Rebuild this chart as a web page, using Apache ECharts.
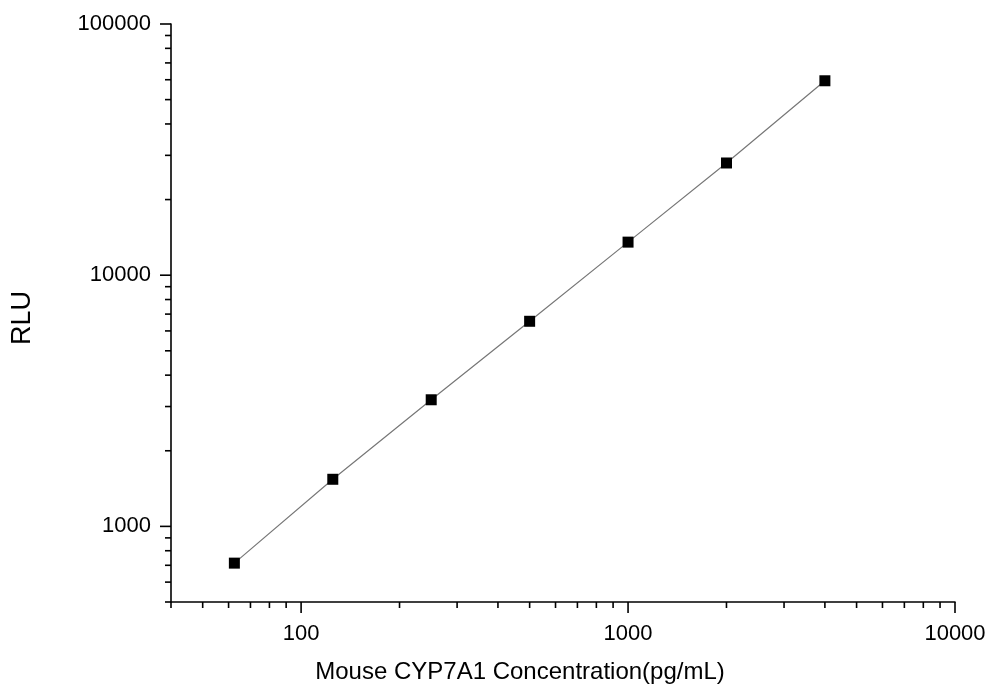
<!DOCTYPE html>
<html>
<head>
<meta charset="utf-8">
<script src="https://cdn.jsdelivr.net/npm/echarts@6/dist/echarts.min.js"></script>
<style>
html,body{margin:0;padding:0;background:#fff;}
#chart{width:989px;height:691px;}
</style>
</head>
<body>
<div id="chart"></div>
<script>
// Data
const concentrations = [62.5, 125, 250, 500, 1000, 2000, 4000];
const rluValues = [714, 1540, 3192, 6554, 13540, 27970, 59430];

// Axis ranges and ticks
const xMin = 40, xMax = 10000;
const yMin = 500, yMax = 100000;
const xMajorTicks = [100, 1000, 10000];
const xMinorTicks = [40, 50, 60, 70, 80, 90, 200, 300, 400, 500, 600, 700, 800, 900,
  2000, 3000, 4000, 5000, 6000, 7000, 8000, 9000];
const yMajorTicks = [1000, 10000, 100000];
const yMinorTicks = [500, 600, 700, 800, 900, 2000, 3000, 4000, 5000, 6000, 7000, 8000, 9000,
  20000, 30000, 40000, 50000, 60000, 70000, 80000, 90000];

const xTitle = 'Mouse CYP7A1 Concentration(pg/mL)';
const yTitle = 'RLU';

const FONT = '"Liberation Sans", Arial, sans-serif';

function isPow10(v) {
  const l = Math.log10(v);
  return Math.abs(l - Math.round(l)) < 1e-9;
}

function tickSeries(values, axis, len) {
  const data = values.map(v => axis === 'x' ? [v, yMin] : [xMin, v]);
  return {
    type: 'custom',
    silent: true,
    clip: false,
    z: 5,
    data: data,
    renderItem: function (params, api) {
      const p = api.coord([api.value(0), api.value(1)]);
      const shape = axis === 'x'
        ? { x1: p[0], y1: p[1], x2: p[0], y2: p[1] + len }
        : { x1: p[0], y1: p[1], x2: p[0] - len, y2: p[1] };
      return { type: 'line', shape: shape, style: { stroke: '#000', lineWidth: 1.6 } };
    }
  };
}

const chart = echarts.init(document.getElementById('chart'));
chart.setOption({
  backgroundColor: '#fff',
  animation: false,
  grid: { left: 171, right: 34, top: 24, bottom: 89 },
  xAxis: {
    type: 'log',
    logBase: 10,
    min: xMin,
    max: xMax,
    name: xTitle,
    nameLocation: 'middle',
    nameGap: 58,
    nameTextStyle: { fontFamily: FONT, fontSize: 24, color: '#000', padding: [0, 86, 0, 0] },
    axisLine: { show: true, onZero: false, lineStyle: { color: '#000', width: 1.6 } },
    axisTick: { show: false },
    splitLine: { show: false },
    minorTick: { show: false },
    axisLabel: {
      margin: 21,
      fontFamily: FONT, fontSize: 22, color: '#000',
      showMinLabel: false,
      formatter: function (v) { return isPow10(v) ? String(Math.round(v)) : ''; }
    }
  },
  yAxis: {
    type: 'log',
    logBase: 10,
    min: yMin,
    max: yMax,
    name: yTitle,
    nameLocation: 'middle',
    nameGap: 135,
    nameRotate: 90,
    nameTextStyle: { fontFamily: FONT, fontSize: 27, color: '#000', padding: [0, 10, 0, 0] },
    axisLine: { show: true, onZero: false, lineStyle: { color: '#000', width: 1.6 } },
    axisTick: { show: false },
    splitLine: { show: false },
    minorTick: { show: false },
    axisLabel: {
      margin: 20,
      fontFamily: FONT, fontSize: 22, color: '#000',
      showMinLabel: false,
      formatter: function (v) { return isPow10(v) ? String(Math.round(v)) : ''; }
    }
  },
  series: [
    {
      type: 'line',
      data: concentrations.map((c, i) => [c, rluValues[i]]),
      symbol: 'rect',
      symbolSize: 11,
      itemStyle: { color: '#000' },
      lineStyle: { color: '#777', width: 1.2 },
      z: 3
    },
    tickSeries(xMajorTicks, 'x', 11),
    tickSeries(xMinorTicks, 'x', 6),
    tickSeries(yMajorTicks, 'y', 11),
    tickSeries(yMinorTicks, 'y', 6)
  ]
});
</script>
</body>
</html>
